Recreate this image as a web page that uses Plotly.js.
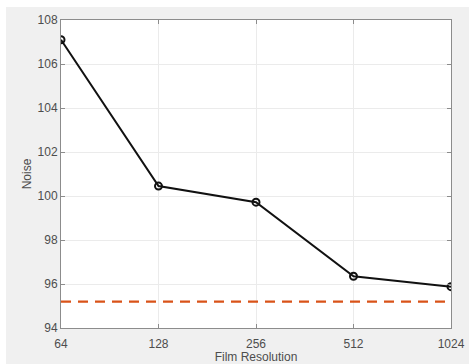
<!DOCTYPE html>
<html>
<head>
<meta charset="utf-8">
<script src="https://cdn.plot.ly/plotly-3.0.1.min.js"></script>
<style>
html,body{margin:0;padding:0;background:#ffffff;width:469px;height:364px;overflow:hidden;}
#chart{position:absolute;left:6px;top:7px;width:463px;height:357px;}
</style>
</head>
<body>
<div id="chart"></div>
<script>
const resolutions = [64, 128, 256, 512, 1024];
const noise = [107.1, 100.45, 99.72, 96.35, 95.88];
const baselineX = [64, 1024];
const baselineY = [95.2, 95.2];
const xTickLabels = ['64', '128', '256', '512', '1024'];
const yTickVals = [94, 96, 98, 100, 102, 104, 106, 108];

const textColor = '#4d4d4d';
const axisColor = '#8c8c8c';

const traces = [
  {
    x: baselineX, y: baselineY, type: 'scatter', mode: 'lines',
    line: {color: '#D95319', width: 2.2, dash: '10px,7px'},
    hoverinfo: 'skip', showlegend: false
  },
  {
    x: resolutions, y: noise, type: 'scatter', mode: 'lines+markers',
    line: {color: '#111111', width: 2},
    marker: {symbol: 'circle-open', size: 7, color: '#111111', line: {width: 2, color: '#111111'}},
    showlegend: false
  }
];

const layout = {
  width: 463, height: 357,
  margin: {l: 55, r: 18, t: 13, b: 36, pad: 0},
  paper_bgcolor: '#f0f0f0',
  plot_bgcolor: '#ffffff',
  font: {family: 'Liberation Sans, Arial, sans-serif', size: 12, color: textColor},
  xaxis: {
    type: 'log',
    range: [Math.log10(64), Math.log10(1024)],
    tickvals: resolutions, ticktext: xTickLabels,
    ticks: 'inside', ticklen: 4, tickcolor: axisColor, tickwidth: 1,
    showline: true, linecolor: axisColor, linewidth: 1, mirror: 'ticks',
    showgrid: true, gridcolor: '#ebebeb', gridwidth: 1,
    zeroline: false,
    ticklabelstandoff: 5,
    tickfont: {size: 12, color: textColor},
    title: {text: 'Film Resolution', font: {size: 12, color: textColor}, standoff: 12},
    automargin: false
  },
  yaxis: {
    range: [94, 108],
    tickvals: yTickVals,
    ticks: 'inside', ticklen: 4, tickcolor: axisColor, tickwidth: 1,
    showline: true, linecolor: axisColor, linewidth: 1, mirror: 'ticks',
    showgrid: true, gridcolor: '#ebebeb', gridwidth: 1,
    zeroline: false,
    tickfont: {size: 12, color: textColor},
    title: {text: 'Noise', font: {size: 12, color: textColor}, standoff: 3},
    automargin: false
  }
};

Plotly.newPlot('chart', traces, layout, {displayModeBar: false, staticPlot: true});
</script>
</body>
</html>
